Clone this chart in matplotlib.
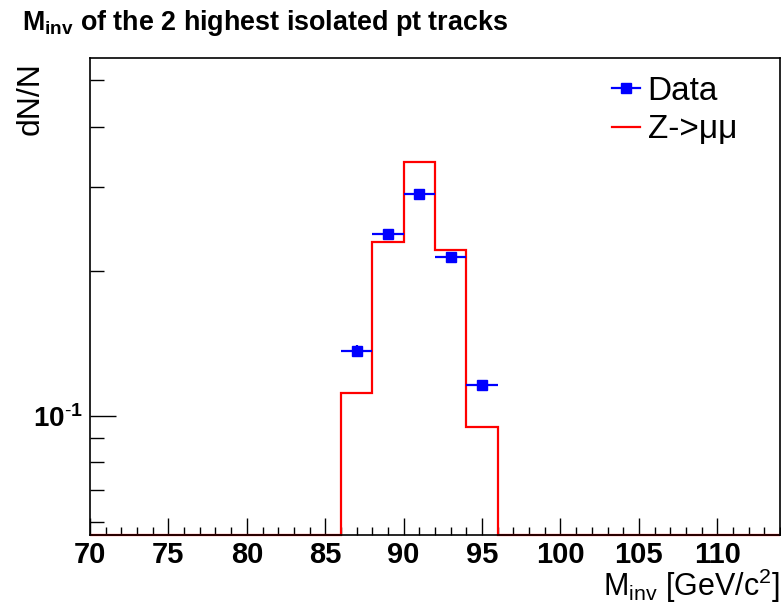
import numpy as np
import matplotlib
matplotlib.use('Agg')
import matplotlib.pyplot as plt
from matplotlib.ticker import MultipleLocator, FixedLocator, NullFormatter, FixedFormatter
from matplotlib.lines import Line2D

plt.rcParams['font.family'] = ['Liberation Sans', 'DejaVu Sans']
plt.rcParams['mathtext.fontset'] = 'custom'
plt.rcParams['mathtext.rm'] = 'Liberation Sans'
plt.rcParams['mathtext.it'] = 'Liberation Sans:italic'
plt.rcParams['mathtext.bf'] = 'Liberation Sans:bold'

# ---- data ----
bin_edges = np.arange(70, 116, 2)          # 70 .. 114
data_centers = [87, 89, 91, 93, 95]
data_values = [0.1366, 0.239, 0.289, 0.214, 0.1157]
data_yerr = [0.0035, 0.0045, 0.005, 0.0043, 0.0032]
data_xerr = [1, 1, 1, 1, 1]
mc_values = [0, 0, 0, 0, 0, 0, 0, 0,
             0.1113, 0.230, 0.337, 0.221, 0.0947,
             0, 0, 0, 0, 0, 0, 0, 0, 0]
x_ticks = [70, 75, 80, 85, 90, 95, 100, 105, 110]
y_major = [0.1]
y_major_labels = [r'$\mathbf{10^{\text{-}1}}$']
y_minor = [0.06, 0.07, 0.08, 0.09, 0.2, 0.3, 0.4, 0.5]
xlim = (70, 114)
ylim = (0.0564, 0.556)

W, H = 781, 614
fig = plt.figure(figsize=(W / 100, H / 100), dpi=100)
ax = fig.add_axes([90 / W, 1 - 535 / H, (780 - 90) / W, (535 - 58) / H])
ax.set_yscale('log')
ax.set_xlim(*xlim)
ax.set_ylim(*ylim)

mc = np.array(mc_values, dtype=float)
mc_draw = np.where(mc > 0, mc, ylim[0])
ax.stairs(mc_draw, bin_edges, baseline=None, color='#ff0000', lw=1.6,
          clip_on=False, zorder=2)

ax.errorbar(data_centers, data_values, xerr=data_xerr, yerr=data_yerr,
            fmt='s', color='#0000ff', ms=7, lw=1.6, capsize=0, zorder=3)

for s in ax.spines.values():
    s.set_linewidth(1.2)
    s.set_zorder(4)

ax.xaxis.set_major_locator(FixedLocator(x_ticks))
ax.xaxis.set_major_formatter(FixedFormatter([str(v) for v in x_ticks]))
ax.xaxis.set_minor_locator(MultipleLocator(1))
ax.yaxis.set_major_locator(FixedLocator(y_major))
ax.yaxis.set_major_formatter(FixedFormatter(y_major_labels))
ax.yaxis.set_minor_locator(FixedLocator(y_minor))
ax.yaxis.set_minor_formatter(NullFormatter())

ax.tick_params(axis='x', which='major', direction='in', length=12, width=1.0,
               labelsize=21, pad=4, top=False)
ax.tick_params(axis='x', which='minor', direction='in', length=6, width=1.0, top=False)
ax.tick_params(axis='y', which='major', direction='in', length=19, width=1.0,
               labelsize=20, pad=5, right=False)
ax.tick_params(axis='y', which='minor', direction='in', length=10, width=1.0, right=False)
for lbl in ax.get_xticklabels():
    lbl.set_fontweight('bold')

fig.text(22 / W, 1 - 23 / H, r'$\mathbf{M_{inv}}$ of the 2 highest isolated pt tracks',
         fontsize=19.4, fontweight='bold', ha='left', va='center')

fig.text(780 / W, 1 - 596 / H, r'$\mathrm{M_{inv}}$ [GeV/c$^{2}$]',
         fontsize=22, ha='right', va='baseline')
fig.text(31 / W, 1 - 62 / H, 'dN/N', fontsize=23, rotation=90,
         ha='center', va='top')

data_handle = Line2D([], [], color='#0000ff', lw=1.6, marker='s', ms=7)
red_handle = Line2D([], [], color='#ff0000', lw=1.6)
leg = fig.legend([data_handle, red_handle], ['Data', 'Z->μμ'], loc='upper left',
                 bbox_to_anchor=(612 / W, 1 - 76 / H), frameon=False,
                 fontsize=24, handlelength=0.85, handletextpad=0.22,
                 labelspacing=0.22, borderpad=0, borderaxespad=0)

fig.savefig('out.png', dpi=100)
